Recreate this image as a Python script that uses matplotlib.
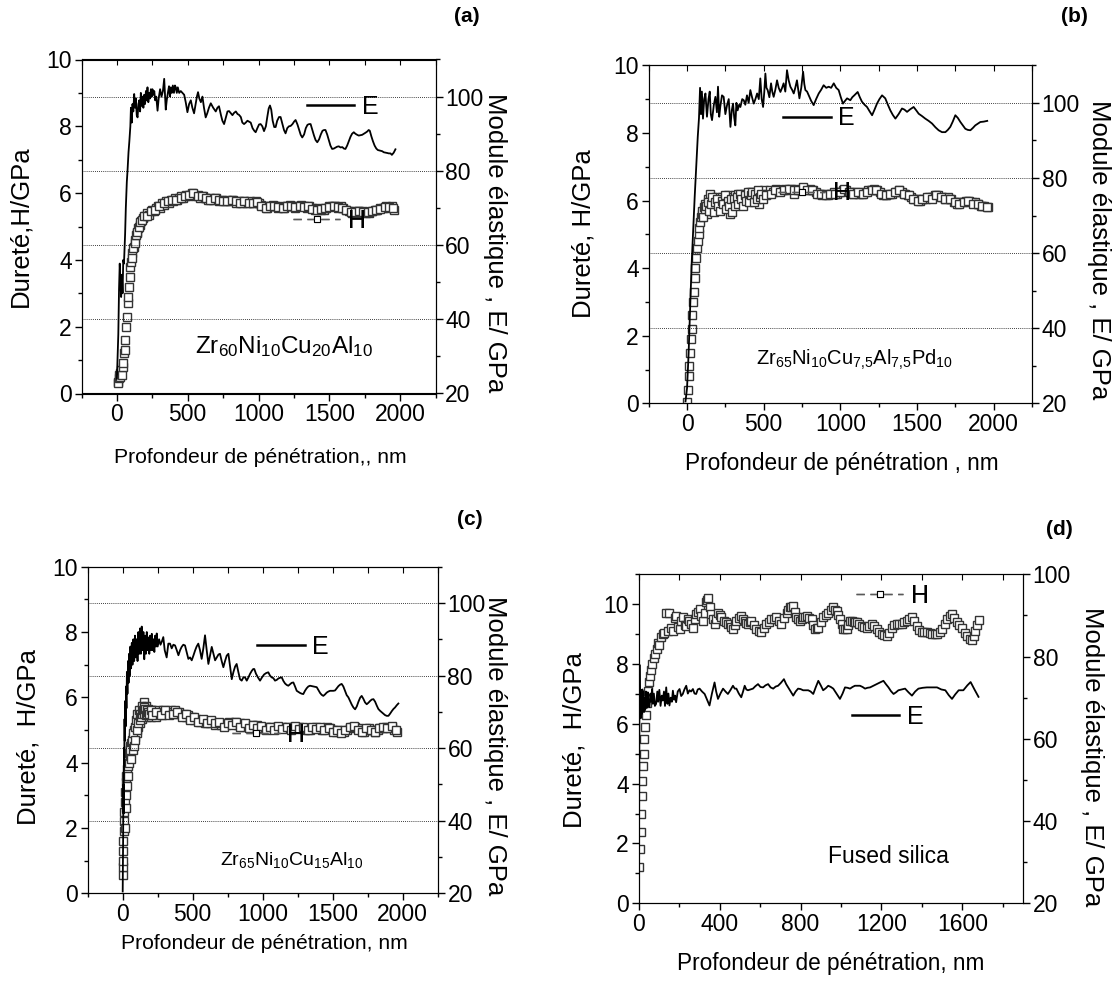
import matplotlib
matplotlib.use('Agg')
import matplotlib.pyplot as plt
from matplotlib.lines import Line2D
from matplotlib.ticker import MultipleLocator

plt.rcParams['font.family'] = 'Liberation Sans'
plt.rcParams['mathtext.fontset'] = 'custom'
plt.rcParams['mathtext.rm'] = 'Liberation Sans'
plt.rcParams['mathtext.default'] = 'regular'

# ---------------- (a) Zr60Ni10Cu20Al10 ----------------
a_h_depth = [5, 8, 12, 15, 20, 25, 30, 35, 40, 45, 50, 55, 60, 65, 70, 75, 80, 85, 90, 95,
             100, 110, 120, 130, 140, 150, 160, 170, 185, 200, 215, 230, 245, 260, 275, 290, 305, 320, 335, 350,
             365, 380, 395, 410, 425, 440, 455, 470, 485, 500, 515, 530, 545, 560, 575, 590, 605, 620,
             640, 660, 680, 700, 720, 740, 760, 780, 800, 820, 840, 860, 880, 900, 920, 940, 960, 980,
             1000, 1020, 1040, 1060, 1080, 1100, 1120, 1140, 1160, 1180,
             1200, 1220, 1240, 1260, 1280, 1300, 1320, 1340, 1360, 1380,
             1400, 1420, 1440, 1460, 1480, 1500, 1520, 1540, 1560, 1580,
             1600, 1620, 1640, 1660, 1680, 1700, 1720, 1740, 1760, 1780,
             1800, 1820, 1840, 1860, 1880, 1900, 1920, 1940, 1960]
a_h_val = [0.35, 0.3, 0.55, 0.45, 0.6, 0.5, 0.7, 0.55, 0.8, 0.9, 1.2, 1.3, 1.6, 2.0, 2.3, 2.7, 2.9, 3.2, 3.5, 3.8,
           3.95, 4.2, 4.4, 4.6, 4.8, 4.95, 5.05, 5.15, 5.25, 5.3, 5.4, 5.35, 5.5, 5.45, 5.55, 5.6, 5.55, 5.7, 5.65, 5.75,
           5.7, 5.8, 5.75, 5.85, 5.8, 5.85, 5.9, 5.85, 5.95, 5.9, 5.95, 6.0, 5.95, 5.9, 5.95, 5.85, 5.9, 5.85,
           5.8, 5.85, 5.8, 5.85, 5.75, 5.8, 5.75, 5.8, 5.75, 5.8, 5.7, 5.75, 5.7, 5.75, 5.7, 5.75, 5.7, 5.75,
           5.7, 5.65, 5.6, 5.55, 5.6, 5.65, 5.6, 5.55, 5.6, 5.55,
           5.6, 5.65, 5.6, 5.55, 5.6, 5.65, 5.6, 5.55, 5.6, 5.55,
           5.5, 5.55, 5.5, 5.5, 5.55, 5.6, 5.6, 5.6, 5.55, 5.6,
           5.55, 5.5, 5.45, 5.4, 5.45, 5.45, 5.4, 5.45, 5.4, 5.4,
           5.45, 5.5, 5.5, 5.55, 5.55, 5.6, 5.55, 5.6, 5.5]
# second indent of (a)
a_h2_depth = [105, 115, 125, 135, 145, 155, 165, 178, 192,
              210, 240, 270, 300, 330, 360, 390, 420, 450, 480, 510, 540,
              570, 600, 630, 660, 690, 720, 750, 780, 810, 840, 870, 900,
              930, 960, 990, 1020, 1050, 1080, 1110, 1140, 1170, 1200, 1230, 1260,
              1290, 1320, 1350, 1380, 1410, 1440, 1470, 1500, 1530, 1560, 1590, 1620,
              1650, 1680, 1710, 1740, 1770, 1800, 1830, 1860, 1890, 1920, 1950]
a_h2_val = [4.05, 4.35, 4.5, 4.75, 4.85, 5.0, 5.12, 5.2, 5.3,
            5.3, 5.45, 5.5, 5.6, 5.7, 5.75, 5.8, 5.8, 5.85, 5.9, 5.95, 6.0,
            5.9, 5.9, 5.85, 5.8, 5.85, 5.8, 5.75, 5.75, 5.8, 5.75, 5.7, 5.75,
            5.7, 5.7, 5.72, 5.6, 5.55, 5.62, 5.6, 5.58, 5.55, 5.62, 5.6, 5.58,
            5.62, 5.58, 5.6, 5.52, 5.5, 5.52, 5.55, 5.58, 5.62, 5.58, 5.55, 5.48,
            5.42, 5.42, 5.45, 5.42, 5.42, 5.45, 5.5, 5.52, 5.58, 5.58, 5.55]
a_e_depth = [0, 5, 10, 15, 20, 25, 30, 35, 40, 45, 50, 58, 63, 70, 75, 82, 88, 95, 99, 105,
             110, 116, 122, 128, 134, 140, 146, 152, 158, 164, 169, 175, 181, 187, 193, 199, 205, 210, 216, 222,
             228, 234, 240, 246, 251, 258, 264, 270, 278, 287, 295, 305, 315, 325, 334, 340, 345, 352, 360, 368,
             375, 381, 388, 395, 403, 410, 416, 423, 430, 440, 451, 463, 475, 486, 498, 510, 522, 533, 545, 556,
             565, 573, 582, 593, 604, 615, 627, 638, 650, 663, 680, 698, 710, 721, 735, 745, 757, 770, 781, 792,
             805, 816, 827, 840, 852, 862, 875, 886, 898, 910, 922, 935, 945, 958, 970, 980, 992, 1004, 1015, 1027,
             1039, 1052, 1062, 1072, 1081, 1090, 1100, 1111, 1121, 1132, 1145, 1156, 1168, 1180, 1191, 1203, 1215, 1227, 1240, 1252,
             1262, 1275, 1287, 1298, 1309, 1322, 1334, 1346, 1358, 1368, 1380, 1392, 1403, 1415, 1428, 1440, 1452, 1463, 1473, 1485,
             1497, 1508, 1520, 1532, 1545, 1555, 1567, 1580, 1592, 1603, 1614, 1626, 1638, 1650, 1661, 1673, 1684, 1697, 1708, 1720,
             1732, 1745, 1757, 1768, 1778, 1786, 1797, 1808, 1820, 1832, 1843, 1854, 1865, 1873, 1885, 1898, 1910, 1920, 1932, 1942,
             1955, 1967]
a_e_val = [24, 30, 36, 48, 55, 50, 46, 52, 47, 56, 55, 63, 70, 77, 80, 85, 88, 92, 97, 93,
           98, 96, 100.7, 97, 99.5, 95, 94.4, 98, 99, 96, 101, 97.5, 100, 97, 100.5, 98, 101.5, 99, 102.5, 98.5,
           101, 99.5, 102, 100, 102, 100.5, 101.5, 99, 100, 96.2, 99.5, 102, 100, 101.5, 104.8, 100, 96.5, 99, 101, 102.8,
           100, 102.5, 101, 103, 101, 103, 102.5, 101, 102.5, 101, 101.5, 101, 100.5, 98.5, 95.8, 98, 99, 97, 95.5, 98,
           100, 101.2, 99.5, 98.5, 100, 97, 94.4, 95.5, 97, 98.2, 97, 96, 97, 97.4, 95, 93.5, 92.6, 94.5, 96, 96.1,
           95.5, 95, 95.6, 96, 95.3, 95.1, 94.5, 93, 92.6, 93, 93.5, 93.2, 93, 91.5, 90.8, 90.4, 91.5, 92.5, 92.6, 92,
           90.7, 92, 94.5, 96.8, 97.6, 96.5, 93.5, 91.8, 91.8, 93.5, 94.5, 94.5, 92.8, 91, 90.1, 91.5, 92, 92.1, 92.6, 93.3,
           93.7, 92.5, 91, 89.7, 89, 89.8, 91.5, 92.4, 92.6, 92.6, 91, 89.5, 88.3, 87.7, 88.5, 89.8, 90.8, 91, 91, 89.8,
           88.2, 86.8, 85.9, 86, 86.3, 86.5, 86.6, 86.3, 86.4, 86, 85.9, 86.8, 88, 89.2, 90, 90.4, 90, 89.7, 89.5, 89.6,
           89.7, 90, 90.3, 90.6, 91, 90.8, 89.3, 88, 86.8, 86, 85.6, 85.5, 85.4, 85.3, 85, 84.9, 84.8, 84.7, 84.7, 84.3,
           84.9, 85.8]

# ---------------- (b) Zr65Ni10Cu7,5Al7,5Pd10 ----------------
b_h_depth = [0, 5, 10, 15, 20, 25, 30, 35, 40, 45, 50, 55, 60, 65, 70, 75, 80, 85, 90, 95, 100,
             110, 120, 130, 140, 150, 160, 170, 180, 190, 200, 210, 220, 230, 240, 250, 260, 270, 280, 290, 300,
             310, 320, 330, 340, 350, 360, 370, 380, 390, 400, 410, 420, 430, 440, 450, 460, 470, 480, 490, 500,
             520, 540, 560, 580, 600, 620, 640, 660, 680, 700, 720, 740, 760, 780, 800, 820, 840, 860, 880, 900,
             920, 940, 960, 980, 1000, 1020, 1040, 1060, 1080, 1100, 1120, 1140, 1160, 1180, 1200, 1220, 1240, 1260, 1280, 1300,
             1320, 1340, 1360, 1380, 1400, 1420, 1440, 1460, 1480, 1500, 1520, 1540, 1560, 1580, 1600, 1620, 1640, 1660, 1680, 1700,
             1720, 1740, 1760, 1780, 1800, 1820, 1840, 1860, 1880, 1900, 1920, 1940, 1960]
b_h_val = [0.05, 0.4, 0.8, 1.1, 1.5, 1.9, 2.2, 2.6, 3.0, 3.3, 3.7, 4.0, 4.3, 4.6, 4.8, 5.0, 5.2, 5.35, 5.5, 5.6, 5.7,
           5.8, 5.9, 5.6, 6.05, 6.2, 5.7, 6.0, 5.8, 6.1, 5.75, 6.05, 5.9, 6.1, 5.8, 6.05, 5.95, 6.15, 5.6, 6.1, 5.9,
           6.15, 5.95, 6.2, 6.0, 6.15, 5.95, 6.2, 6.1, 6.15, 6.0, 6.25, 6.1, 6.2, 6.05, 6.25, 6.15, 5.9, 6.25, 6.1, 6.3,
           6.2, 6.3, 6.25, 6.35, 6.3, 6.3, 6.35, 6.3, 6.35, 6.2, 6.35, 6.3, 6.35, 6.3, 6.35, 6.3, 6.25, 6.2, 6.15, 6.2,
           6.15, 6.2, 6.25, 6.2, 6.25, 6.3, 6.3, 6.25, 6.2, 6.25, 6.2, 6.2, 6.25, 6.3, 6.3, 6.35, 6.3, 6.25, 6.15, 6.15,
           6.2, 6.2, 6.25, 6.3, 6.25, 6.2, 6.15, 6.1, 6.05, 6.05, 6.0, 6.05, 6.05, 6.1, 6.1, 6.15, 6.15, 6.1, 6.05, 6.1,
           6.05, 5.95, 5.9, 5.95, 5.95, 6.0, 6.0, 5.95, 5.95, 5.9, 5.85, 5.85, 5.8]
b_h2_depth = [105, 115, 125, 135, 145, 155, 165, 175, 185, 195, 205, 215, 225, 235, 245, 255, 265, 275, 285, 295,
              305, 315, 325, 335, 345, 355, 365, 375, 385, 395, 405, 415, 425, 435, 445, 455, 465, 475, 485, 495,
              515, 545, 575, 605, 635, 665, 695, 725, 755, 785,
              815, 845, 875, 905, 935, 965, 995, 1025, 1055, 1085,
              1115, 1145, 1175, 1205, 1235, 1265, 1295, 1325, 1355, 1385,
              1415, 1445, 1475, 1505, 1535, 1565, 1595, 1625, 1655, 1685,
              1715, 1745, 1775, 1805, 1835, 1865, 1895, 1925, 1955]
b_h2_val = [5.5, 5.75, 5.85, 5.95, 5.7, 5.9, 6.1, 5.65, 5.95, 6.05, 5.85, 5.7, 6.0, 5.9, 6.15, 5.75, 6.0, 5.85, 6.05, 5.65,
            6.05, 5.85, 6.1, 5.9, 6.2, 6.05, 5.85, 6.15, 6.0, 6.25, 5.95, 6.15, 6.25, 5.95, 6.2, 6.05, 6.3, 6.1, 6.2, 6.05,
            6.15, 6.2, 6.3, 6.25, 6.3, 6.35, 6.3, 6.3, 6.4, 6.3,
            6.3, 6.2, 6.2, 6.15, 6.2, 6.2, 6.25, 6.35, 6.25, 6.2,
            6.25, 6.2, 6.25, 6.3, 6.3, 6.2, 6.15, 6.2, 6.25, 6.3,
            6.2, 6.15, 6.05, 6.0, 6.05, 6.1, 6.05, 6.15, 6.1, 6.05,
            6.05, 5.95, 5.9, 5.95, 6.0, 5.9, 5.9, 5.85, 5.8]
b_e_depth = [-10, 0, 10, 20, 30, 40, 50, 60, 70, 78, 85, 91, 97, 104, 112, 120, 130, 140, 148, 155,
             163, 175, 185, 195, 202, 210, 217, 228, 239, 250, 261, 272, 283, 292, 300, 308, 315, 322, 330, 340,
             348, 360, 370, 380, 391, 402, 413, 424, 435, 446, 457, 468, 478, 487, 496, 504, 511, 518, 526, 537,
             548, 556, 565, 576, 587, 598, 609, 620, 630, 641, 652, 663, 674, 685, 696, 706, 717, 725, 733, 745,
             757, 765, 772, 783, 794, 810, 826, 842, 859, 875, 891, 908, 924, 940, 957, 973, 989, 1003, 1017, 1030,
             1044, 1065, 1078, 1091, 1113, 1127, 1141, 1158, 1174, 1190, 1207, 1223, 1239, 1255, 1272, 1293, 1310, 1326, 1342, 1359,
             1380, 1402, 1418, 1435, 1456, 1478, 1495, 1511, 1532, 1554, 1576, 1598, 1620, 1641, 1663, 1685, 1701, 1717, 1733, 1750,
             1766, 1783, 1799, 1815, 1831, 1848, 1864, 1880, 1913, 1935, 1958]
b_e_val = [20.5, 24, 33, 45, 57, 66, 75, 83, 91, 96, 104, 97, 103, 95.8, 101, 102.5, 96.3, 101, 103, 97,
           95.4, 99.5, 101.6, 97.5, 104.3, 96.3, 99, 102, 101.6, 97, 99.4, 101, 93.6, 98, 99.8, 96, 94, 100, 98, 99.5,
           98.9, 101, 100.7, 99.5, 102, 100, 103.4, 101.5, 99.8, 101, 102.5, 101, 106.5, 101, 98.9, 103, 107.8, 104, 103.4, 101.5,
           105.2, 103, 101.6, 103.5, 106, 104, 102.9, 104, 105.2, 103, 108.7, 106, 104.3, 103.5, 102.5, 104, 106, 103.5, 101.2, 104,
           108.3, 105, 103.4, 103, 102, 100.5, 99.4, 101, 102.5, 103.5, 104.7, 104, 104.3, 104, 105.2, 104, 103.4, 101.5, 99.8, 100.5,
           101.2, 100.7, 101.5, 102, 102.9, 101.5, 100.3, 99.5, 98.9, 97.8, 96.7, 98.2, 99.8, 101, 102, 101.2, 99.5, 98, 96.8, 95.8,
           97, 98.5, 98.2, 97.6, 98.3, 98.9, 98, 97.1, 96.5, 95.8, 95.2, 94.5, 93.5, 92.7, 92.2, 92.2, 92.8, 93.6, 95, 96.7,
           96, 94.9, 94, 93.1, 92.8, 92.7, 93.3, 94, 94.9, 95, 95.2]

# ---------------- (c) Zr65Ni10Cu15Al10 ----------------
c_h_depth = [0, 2, 3, 4, 5, 7, 9, 11, 14, 17, 21, 25, 30, 35, 40, 45, 50, 55, 60, 65,
             70, 76, 82, 88, 94, 100, 106, 112, 118, 124, 130, 136, 142, 148, 154, 160, 166, 172, 178, 185,
             192, 200, 210, 220, 230, 240, 250, 260, 270, 280, 290, 300, 315, 330, 345, 360, 375, 390, 405, 420,
             435, 450, 465, 480, 495, 510, 525, 540, 555, 570, 585, 600, 620, 640, 660, 680, 700, 720, 740, 760,
             780, 800, 820, 840, 860, 880, 900, 920, 940, 960, 980, 1000, 1020, 1040, 1060, 1080, 1100, 1120, 1140, 1160,
             1180, 1200, 1220, 1240, 1260, 1280, 1300, 1320, 1340, 1360, 1380, 1400, 1420, 1440, 1460, 1480, 1500, 1520, 1540, 1560,
             1580, 1600, 1620, 1640, 1660, 1680, 1700, 1720, 1740, 1760, 1780, 1800, 1820, 1840, 1860, 1880, 1900, 1920, 1940, 1960]
c_h_val = [0.55, 0.8, 1.0, 1.3, 1.6, 1.9, 2.2, 2.5, 2.8, 3.1, 3.4, 3.6, 3.8, 4.0, 4.2, 4.3, 4.5, 4.4, 4.6, 4.5,
           4.8, 4.6, 5.0, 4.8, 5.1, 4.9, 5.3, 5.1, 5.4, 5.2, 5.6, 5.35, 5.7, 5.45, 5.85, 5.55, 5.75, 5.4, 5.65, 5.45,
           5.6, 5.4, 5.6, 5.45, 5.55, 5.4, 5.6, 5.5, 5.55, 5.45, 5.6, 5.5, 5.55, 5.5, 5.6, 5.55, 5.6, 5.5, 5.55, 5.45,
           5.5, 5.4, 5.45, 5.35, 5.4, 5.3, 5.35, 5.3, 5.25, 5.3, 5.2, 5.25, 5.2, 5.25, 5.15, 5.2, 5.15, 5.2, 5.15, 5.25,
           5.2, 5.25, 5.15, 5.2, 5.1, 5.15, 5.1, 5.15, 5.1, 5.15, 5.1, 5.05, 5.1, 5.05, 5.1, 5.05, 5.1, 5.05, 5.1, 5.05,
           5.1, 5.05, 5.1, 5.05, 5.1, 5.05, 5.0, 5.05, 5.0, 5.05, 5.1, 5.05, 5.0, 5.05, 5.1, 5.05, 5.0, 4.95, 5.0, 4.95,
           4.95, 5.0, 5.05, 5.1, 5.1, 5.05, 5.0, 4.95, 5.0, 5.05, 5.0, 4.95, 5.0, 5.05, 5.05, 5.1, 5.05, 5.1, 5.0, 4.95]
c_h2_depth = [15, 20, 25, 30, 35, 40, 45, 50, 55, 60, 65, 70, 75, 80, 85, 90, 95, 100, 105, 110,
              115, 120, 125, 130, 135, 140, 145, 150, 155, 160, 165, 170, 175, 180, 190, 200,
              210, 240, 270, 300, 330, 360, 390, 420, 450, 480, 510, 540,
              570, 600, 630, 660, 690, 720, 750, 780, 810, 840, 870, 900,
              930, 960, 990, 1020, 1050, 1080, 1110, 1140, 1170, 1200, 1230, 1260,
              1290, 1320, 1350, 1380, 1410, 1440, 1470, 1500, 1530, 1560, 1590, 1620,
              1650, 1680, 1710, 1740, 1770, 1800, 1830, 1860, 1890, 1920, 1950]
c_h2_val = [2.0, 2.6, 3.0, 3.3, 3.6, 3.9, 4.0, 4.2, 4.4, 4.1, 4.7, 4.4, 4.9, 4.5, 5.1, 4.7, 5.3, 5.0, 5.5, 5.2,
            5.6, 5.3, 5.5, 5.4, 5.75, 5.5, 5.6, 5.7, 5.5, 5.65, 5.45, 5.6, 5.5, 5.55, 5.5, 5.6,
            5.45, 5.55, 5.45, 5.6, 5.45, 5.5, 5.55, 5.4, 5.5, 5.3, 5.4, 5.25,
            5.35, 5.2, 5.3, 5.2, 5.25, 5.1, 5.2, 5.15, 5.25, 5.1, 5.2, 5.05,
            5.15, 5.05, 5.12, 5.0, 5.1, 5.0, 5.12, 5.02, 5.1, 5.0, 5.12, 5.02,
            5.1, 5.0, 5.08, 5.02, 5.1, 5.0, 5.05, 4.95, 5.0, 4.92, 5.0, 5.08,
            5.12, 5.0, 4.95, 5.05, 5.0, 4.95, 5.05, 5.1, 5.05, 5.12, 5.0]
c_e_depth = [0, 3, 5, 7, 9, 11, 13, 15, 18, 21, 24, 27, 30, 34, 38, 42, 46, 50, 55, 60,
             65, 70, 76, 82, 88, 94, 100, 106, 112, 118, 124, 130, 136, 142, 148, 154, 160, 166, 172, 178,
             184, 190, 196, 202, 208, 214, 220, 226, 232, 238, 243, 250, 260, 270, 279, 290, 300, 314, 326, 338,
             350, 362, 374, 386, 398, 410, 421, 433, 445, 457, 469, 481, 493, 505, 517, 528, 540, 552, 564, 576,
             588, 600, 612, 624, 636, 648, 660, 672, 684, 695, 707, 719, 731, 743, 755, 767, 779, 791, 803, 814,
             826, 838, 850, 862, 874, 886, 898, 910, 922, 932, 940, 952, 966, 981, 995, 1010, 1025, 1040, 1052, 1064,
             1076, 1088, 1100, 1112, 1124, 1136, 1148, 1160, 1172, 1183, 1195, 1207, 1219, 1231, 1243, 1255, 1267, 1279, 1290, 1302,
             1314, 1326, 1338, 1350, 1362, 1374, 1386, 1398, 1410, 1421, 1433, 1445, 1457, 1469, 1481, 1493, 1505, 1517, 1529, 1541,
             1553, 1564, 1576, 1588, 1600, 1612, 1624, 1636, 1648, 1660, 1672, 1684, 1696, 1707, 1719, 1731, 1743, 1755, 1767, 1779,
             1791, 1803, 1815, 1826, 1838, 1850, 1862, 1874, 1886, 1898, 1910, 1922, 1934, 1945, 1957, 1969]
c_e_val = [20.5, 35, 50, 42, 60, 55, 68, 62, 73, 66, 77, 71, 81, 75, 84, 78, 86, 80, 88, 82,
           89, 83, 90, 84, 91, 85, 90, 84, 92, 86, 93, 86, 93.5, 87, 92, 84.5, 91, 86, 92, 87,
           90.5, 86, 91, 87, 91.5, 87, 90, 86.5, 91, 88, 91.6, 88, 90, 88.5, 89.3, 90.6, 87, 85, 88.8, 88.8,
           87.5, 88.5, 88.3, 87, 85.6, 87, 87.9, 88.5, 88.3, 86.5, 84.6, 85, 84.2, 85.5, 86.9, 88, 88.8, 87, 84.6, 87.5,
           91.1, 87, 83.2, 85.5, 87.9, 86, 84.2, 85, 85.8, 86, 84, 82.3, 84, 85.5, 86, 82.5, 79, 81, 82.5, 83.2,
           81, 79, 78.6, 79.5, 79.5, 78.6, 79.5, 80.5, 81.3, 81.8, 81.8, 80.5, 79.5, 78.6, 79.5, 80.3, 80.7, 80.9, 80, 79.5,
           79.3, 78.6, 78.8, 79.2, 79.4, 79.5, 78.5, 77.8, 77.4, 77.2, 77.6, 78, 78.1, 77, 75.8, 75.5, 75.2, 75, 74.9, 75.8,
           76.5, 77, 77.2, 77.1, 77, 76.9, 76.8, 76, 75.2, 74.7, 74.4, 74.8, 75.3, 75.6, 75.8, 75.8, 75.8, 75.9, 76.5, 77.1,
           77.5, 77.7, 77, 75.8, 74.6, 74, 73, 72, 71.2, 70.7, 71.5, 72.8, 73.9, 74.4, 73.6, 72.6, 72.1, 72.5, 73, 73.4,
           73.5, 72.8, 71.7, 70.8, 70.3, 69.9, 69.5, 69.1, 68.9, 68.9, 69.5, 70.2, 70.8, 71.2, 71.8, 72.3]

# ---------------- (d) fused silica ----------------
d_h_depth = [3, 6, 9, 12, 15, 18, 21, 24, 28, 32, 36, 40, 45, 50, 55, 61, 68, 75, 82, 90,
             96, 102, 110, 118, 127, 135, 143, 152, 160, 169, 177, 185, 193, 202, 210, 218, 227, 235, 243, 251,
             260, 268, 276, 284, 293, 301, 309, 317, 326, 334, 340, 345, 352, 359, 367, 375, 383, 392, 400, 408,
             420, 433, 441, 450, 458, 466, 475, 483, 495, 507, 516, 524, 532, 540, 548, 557, 569, 582, 594, 607,
             619, 631, 644, 656, 668, 681, 693, 706, 718, 731, 739, 747, 755, 764, 772, 780, 788, 797, 805, 813,
             821, 830, 842, 855, 863, 871, 880, 888, 900, 912, 925, 937, 950, 962, 970, 979, 987, 995, 1003, 1012,
             1020, 1028, 1037, 1045, 1053, 1062, 1070, 1078, 1090, 1103, 1115, 1127, 1140, 1152, 1165, 1177, 1190, 1202, 1215, 1227,
             1239, 1251, 1264, 1276, 1288, 1301, 1313, 1326, 1338, 1351, 1363, 1376, 1388, 1400, 1413, 1425, 1438, 1450, 1463, 1475,
             1488, 1500, 1512, 1524, 1537, 1549, 1561, 1574, 1586, 1600, 1612, 1625, 1638, 1650, 1658, 1665, 1673, 1680]
d_h_val = [1.2, 1.8, 2.4, 3.0, 3.6, 4.1, 4.6, 5.0, 5.5, 5.9, 6.3, 6.7, 7.1, 7.4, 7.6, 7.8, 8.0, 8.2, 8.35, 8.5,
           8.7, 8.65, 8.9, 9.0, 9.05, 9.7, 9.1, 9.72, 9.2, 9.11, 9.55, 9.61, 9.25, 9.17, 9.45, 9.56, 9.3, 9.28, 9.5, 9.44,
           9.35, 9.22, 9.5, 9.67, 9.75, 9.83, 9.6, 9.44, 9.7, 10.06, 10.15, 10.22, 9.9, 9.67, 9.5, 9.33, 9.5, 9.72, 9.65, 9.56,
           9.45, 9.39, 9.35, 9.33, 9.25, 9.17, 9.3, 9.44, 9.55, 9.61, 9.5, 9.44, 9.38, 9.33, 9.4, 9.44, 9.3, 9.17, 9.1, 9.06,
           9.2, 9.33, 9.42, 9.5, 9.52, 9.56, 9.45, 9.33, 9.55, 9.72, 9.8, 9.89, 9.92, 9.94, 9.75, 9.56, 9.5, 9.44, 9.5, 9.56,
           9.58, 9.61, 9.55, 9.5, 9.3, 9.17, 9.2, 9.22, 9.4, 9.56, 9.65, 9.72, 9.8, 9.89, 9.82, 9.78, 9.65, 9.5, 9.33, 9.17,
           9.17, 9.17, 9.3, 9.44, 9.45, 9.42, 9.4, 9.39, 9.34, 9.28, 9.25, 9.22, 9.28, 9.33, 9.28, 9.17, 9.08, 9.0, 8.96, 8.94,
           9.05, 9.22, 9.3, 9.33, 9.33, 9.33, 9.39, 9.44, 9.5, 9.56, 9.45, 9.28, 9.15, 9.06, 9.06, 9.06, 9.03, 9.0, 9.0, 9.0,
           9.06, 9.17, 9.33, 9.5, 9.6, 9.67, 9.55, 9.4, 9.3, 9.2, 9.05, 8.95, 8.85, 8.8, 8.95, 9.1, 9.3, 9.47]
d_e_depth = [0, 2, 3, 4, 6, 8, 10, 12, 15, 18, 20, 23, 26, 28, 32, 36, 40, 45, 49, 53,
             58, 62, 66, 70, 75, 80, 86, 92, 96, 102, 108, 114, 119, 125, 130, 136, 142, 147, 152, 158,
             164, 169, 175, 180, 185, 193, 202, 210, 218, 226, 235, 243, 251, 259, 268, 276, 284, 292, 301, 313,
             326, 338, 350, 362, 375, 383, 392, 404, 417, 429, 441, 453, 466, 475, 483, 495, 507, 516, 524, 532,
             540, 552, 565, 577, 590, 602, 615, 627, 640, 652, 665, 677, 689, 703, 718, 729, 739, 752, 764, 776,
             788, 800, 813, 826, 838, 850, 863, 875, 888, 900, 912, 925, 937, 950, 962, 978, 995, 1008, 1020, 1033,
             1045, 1057, 1069, 1082, 1094, 1107, 1119, 1131, 1144, 1160, 1177, 1193, 1210, 1222, 1235, 1247, 1260, 1272, 1284, 1300,
             1317, 1334, 1351, 1367, 1383, 1404, 1425, 1450, 1475, 1496, 1516, 1533, 1549, 1565, 1582, 1605, 1625, 1641, 1660, 1680]
d_e_val = [22, 40, 58, 78, 68, 72, 65, 70, 66, 72, 67, 71.5, 66.5, 70, 67, 71.5, 67.5, 71.3, 68, 67.7,
           71, 69, 72.1, 68.5, 71, 68, 68.5, 71.5, 69, 71.9, 68, 70.5, 69.3, 71.5, 68, 72.5, 68.5, 71, 68.1, 70,
           69, 71.7, 69.5, 70.5, 68.9, 71.5, 72.1, 70.4, 70.9, 72, 72.9, 71, 71.8, 71.5, 72.1, 71, 70.9, 72, 72.2, 71.5,
           70.9, 69.5, 68.1, 71, 73.7, 71.5, 69.7, 71, 72.2, 71.5, 70.9, 71.8, 72.9, 72.2, 72.2, 71, 70.1, 71.5, 72.9, 72,
           71.8, 72, 72.2, 72.8, 73.3, 72.6, 72.5, 73, 73.3, 72.5, 72.2, 72.7, 72.9, 73.6, 74.5, 73.3, 72.5, 71.5, 70.5, 71.5,
           72.2, 72.1, 71.8, 71.8, 71.8, 71.5, 70.9, 72.5, 74.1, 73, 71.8, 72.3, 72.9, 72.6, 72.2, 71, 69.7, 71, 72.5, 72.4,
           72.2, 72.6, 72.9, 72.9, 72.9, 72.6, 72.2, 72.4, 72.5, 72.9, 73.3, 73.7, 74.1, 73.3, 72.5, 71.6, 70.9, 71.3, 71.8, 72,
           72.2, 71.3, 70.5, 71.5, 72.2, 72.4, 72.5, 72.5, 72.5, 72, 71.8, 70.6, 69.7, 70.8, 71.8, 71.8, 73, 73.8, 72, 70.2]

W, H = 1114., 981.
fig = plt.figure(figsize=(11.14, 9.81), dpi=100)


def make_axes(l, t, r, b, xlim, xstep, hlim, elim, grid=True):
    ax = fig.add_axes([l / W, 1 - b / H, (r - l) / W, (b - t) / H])
    ax2 = ax.twinx()
    ax.set_xlim(xlim)
    ax.set_ylim(hlim)
    ax2.set_ylim(elim)
    ax.xaxis.set_major_locator(MultipleLocator(2 * xstep))
    ax.xaxis.set_minor_locator(MultipleLocator(xstep))
    ax.yaxis.set_major_locator(MultipleLocator(2))
    ax.yaxis.set_minor_locator(MultipleLocator(1))
    ax2.yaxis.set_major_locator(MultipleLocator(20))
    ax2.yaxis.set_minor_locator(MultipleLocator(10))
    for a in (ax, ax2):
        a.tick_params(which='both', direction='out', labelsize=16.5, width=1, pad=2)
        a.tick_params(which='major', length=5)
        a.tick_params(which='minor', length=3)
    top = ax.secondary_xaxis('top')
    top.xaxis.set_major_locator(MultipleLocator(xstep))
    top.tick_params(direction='in', length=4, labeltop=False)
    top.spines['top'].set_visible(False)
    if grid:
        ax2.grid(axis='y', which='major', linestyle=(0, (1, 1.5)), color='k', linewidth=0.6)
    return ax, ax2


def key(axis, handle, label, x, y):
    leg = axis.legend([handle], [label], loc='center left', bbox_to_anchor=(x, y), frameon=False,
                      fontsize=18, handlelength=1.9, handletextpad=0.3, borderpad=0, borderaxespad=0,
                      numpoints=1)
    axis.add_artist(leg)


e_handle = Line2D([], [], color='k', lw=1.8)
h_handle = Line2D([], [], color='0.35', lw=1.0, ls=(0, (6, 4)), marker='s', ms=4,
                  mfc='white', mec='k', mew=0.8)

h_style = dict(ls='none', marker='s', ms=5.5, mfc='white', mec='0.2', mew=1.0)

panels = [
    dict(box=(81.5, 59.5, 435.5, 393.5), xlim=(-250, 2250), xstep=250, hlim=(0, 10), elim=(20, 110), grid=True,
         h=[(a_h_depth, a_h_val), (a_h2_depth, a_h2_val)], e=(a_e_depth, a_e_val),
         ylab='Dureté,H/GPa', xlab='Profondeur de pénétration,, nm', xlab_size=15.2,
         ylab_xy=(-0.172, 0.5), rlab_xy=(1.169, 0.452), xlab_xy=(0.504, -0.192), tag='(a)', tag_xy=(1.088, 1.128),
         e_key=(0.637, 0.859), h_key=(0.597, 0.517),
         note=r'Zr$_{60}$Ni$_{10}$Cu$_{20}$Al$_{10}$', note_xy=(0.573, 0.14), note_size=17.5),
    dict(box=(648.7, 65.3, 1032, 403.3), xlim=(-250, 2250), xstep=250, hlim=(0, 10), elim=(20, 110), grid=True,
         h=[(b_h_depth, b_h_val), (b_h2_depth, b_h2_val)], e=(b_e_depth, b_e_val),
         ylab='Dureté, H/GPa', xlab='Profondeur de pénétration , nm', xlab_size=16.3,
         ylab_xy=(-0.169, 0.503), rlab_xy=(1.174, 0.454), xlab_xy=(0.505, -0.178), tag='(b)', tag_xy=(1.111, 1.144),
         e_key=(0.351, 0.843), h_key=(0.337, 0.621),
         note=r'Zr$_{65}$Ni$_{10}$Cu$_{7{,}5}$Al$_{7{,}5}$Pd$_{10}$', note_xy=(0.537, 0.128), note_size=14.5),
    dict(box=(87.7, 566.7, 437.7, 893.3), xlim=(-250, 2250), xstep=250, hlim=(0, 10), elim=(20, 110), grid=True,
         h=[(c_h_depth, c_h_val), (c_h2_depth, c_h2_val)], e=(c_e_depth, c_e_val),
         ylab='Dureté,  H/GPa', xlab='Profondeur de pénétration, nm', xlab_size=15.2,
         ylab_xy=(-0.168, 0.478), rlab_xy=(1.163, 0.452), xlab_xy=(0.505, -0.153), tag='(c)', tag_xy=(1.092, 1.143),
         e_key=(0.485, 0.755), h_key=(0.413, 0.485),
         note=r'Zr$_{65}$Ni$_{10}$Cu$_{15}$Al$_{10}$', note_xy=(0.584, 0.102), note_size=14),
    dict(box=(638.7, 574.3, 1023, 903.3), xlim=(0, 1900), xstep=200, hlim=(0, 11), elim=(20, 100), grid=False,
         h=[(d_h_depth, d_h_val)], e=(d_e_depth, d_e_val),
         ylab='Dureté,  H/GPa', xlab='Profondeur de pénétration, nm', xlab_size=16.3,
         ylab_xy=(-0.166, 0.496), rlab_xy=(1.179, 0.446), xlab_xy=(0.5, -0.182), tag='(d)', tag_xy=(1.095, 1.135),
         e_key=(0.555, 0.567), h_key=(0.565, 0.934),
         note='Fused silica', note_xy=(0.65, 0.142), note_size=16.5),
]

for p in panels:
    ax, ax2 = make_axes(*p['box'], p['xlim'], p['xstep'], p['hlim'], p['elim'], p['grid'])
    for hx, hy in p['h']:
        ax.plot(hx, hy, **h_style)
    ax2.plot(p['e'][0], p['e'][1], color='k', lw=1.3)
    key(ax2, e_handle, 'E', *p['e_key'])
    key(ax2, h_handle, 'H', *p['h_key'])
    ax2.text(*p['note_xy'], p['note'], transform=ax2.transAxes,
             ha='center', va='center', fontsize=p['note_size'])
    ax2.text(*p['ylab_xy'], p['ylab'], transform=ax2.transAxes, rotation=90,
             ha='center', va='center', fontsize=18.5)
    ax2.text(*p['rlab_xy'], 'Module élastique , E/ GPa', transform=ax2.transAxes, rotation=-90,
             ha='center', va='center', fontsize=18.5)
    ax2.text(*p['xlab_xy'], p['xlab'], transform=ax2.transAxes,
             ha='center', va='center', fontsize=p['xlab_size'])
    ax2.text(*p['tag_xy'], p['tag'], transform=ax2.transAxes,
             ha='center', va='center', fontsize=15, fontweight='bold')

fig.savefig('out.png', dpi=100)
